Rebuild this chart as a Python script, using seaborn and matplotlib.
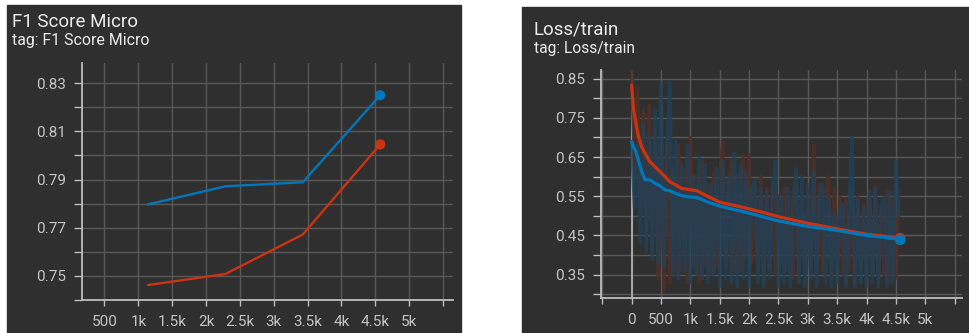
import matplotlib
matplotlib.use("Agg")
import matplotlib.pyplot as plt
from matplotlib.patches import Rectangle
import numpy as np
import pandas as pd
import seaborn as sns

# ---------------- data ----------------
# F1 (micro) evaluated at the end of each epoch
f1_steps = [1143, 2286, 3429, 4572]
f1_blue = [0.7797, 0.7872, 0.7889, 0.8250]
f1_red = [0.7462, 0.7508, 0.7672, 0.8046]

# raw training loss, one value every 50 steps (0 .. 4550)
loss_blue_raw = [
    0.69, 0.52, 0.68, 0.43, 0.73, 0.41, 0.70, 0.39, 0.77, 0.38,
    0.84, 0.37, 0.66, 0.84, 0.35, 0.69, 0.34, 0.63, 0.36, 0.68,
    0.33, 0.60, 0.35, 0.65, 0.34, 0.63, 0.33, 0.58, 0.35, 0.62,
    0.32, 0.64, 0.34, 0.60, 0.33, 0.66, 0.32, 0.63, 0.34, 0.61,
    0.32, 0.57, 0.59, 0.33, 0.57, 0.32, 0.56, 0.34, 0.55, 0.64,
    0.32, 0.55, 0.33, 0.57, 0.32, 0.54, 0.62, 0.33, 0.60, 0.32,
    0.58, 0.34, 0.61, 0.32, 0.55, 0.58, 0.33, 0.55, 0.32, 0.51,
    0.33, 0.52, 0.53, 0.32, 0.50, 0.70, 0.32, 0.54, 0.33, 0.52,
    0.32, 0.56, 0.33, 0.57, 0.32, 0.53, 0.55, 0.32, 0.56, 0.33,
    0.64, 0.50,
]
loss_red_raw = [
    0.88, 0.62, 0.83, 0.50, 0.77, 0.44, 0.78, 0.41, 0.72, 0.34,
    0.66, 0.31, 0.70, 0.33, 0.62, 0.35, 0.68, 0.36, 0.62, 0.33,
    0.70, 0.37, 0.60, 0.33, 0.64, 0.38, 0.58, 0.35, 0.61, 0.37,
    0.57, 0.69, 0.37, 0.58, 0.64, 0.36, 0.60, 0.36, 0.655, 0.40,
    0.655, 0.38, 0.58, 0.36, 0.60, 0.34, 0.57, 0.37, 0.59, 0.35,
    0.55, 0.38, 0.57, 0.36, 0.56, 0.34, 0.58, 0.36, 0.55, 0.35,
    0.57, 0.37, 0.68, 0.35, 0.58, 0.36, 0.56, 0.60, 0.34, 0.57,
    0.37, 0.55, 0.35, 0.54, 0.36, 0.56, 0.33, 0.55, 0.36, 0.53,
    0.34, 0.55, 0.35, 0.575, 0.33, 0.52, 0.35, 0.565, 0.33, 0.54,
    0.34, 0.56,
]
loss_steps = [50 * i for i in range(len(loss_blue_raw))]

# smoothed training loss
smooth_steps = [0, 30, 60, 110, 170, 230, 310, 400, 480, 570, 650, 740,
                850, 940, 1110, 1280, 1500, 2000, 2500, 3000, 3500, 4000,
                4500, 4572]
loss_blue_smooth = [0.689, 0.676, 0.668, 0.645, 0.613, 0.592, 0.592, 0.583,
                    0.577, 0.566, 0.564, 0.558, 0.552, 0.549, 0.547, 0.536,
                    0.525, 0.507, 0.487, 0.473, 0.463, 0.450, 0.442, 0.439]
loss_red_smooth = [0.833, 0.774, 0.748, 0.706, 0.676, 0.659, 0.638, 0.625,
                   0.613, 0.600, 0.587, 0.580, 0.570, 0.568, 0.564, 0.551,
                   0.535, 0.518, 0.498, 0.481, 0.467, 0.453, 0.445, 0.443]

# axis ticks
f1_xticks = [500, 1000, 1500, 2000, 2500, 3000, 3500, 4000, 4500, 5000, 5500]
f1_xticklabels = ["500", "1k", "1.5k", "2k", "2.5k", "3k", "3.5k", "4k",
                  "4.5k", "5k", ""]
f1_yticks = [0.74, 0.75, 0.76, 0.77, 0.78, 0.79, 0.80, 0.81, 0.82, 0.83]
f1_yticklabels = ["", "0.75", "", "0.77", "", "0.79", "", "0.81", "", "0.83"]

loss_xticks = [-500, 0, 500, 1000, 1500, 2000, 2500, 3000, 3500, 4000,
               4500, 5000, 5500]
loss_xticklabels = ["", "0", "500", "1k", "1.5k", "2k", "2.5k", "3k", "3.5k",
                    "4k", "4.5k", "5k", ""]
loss_yticks = [0.30, 0.35, 0.40, 0.45, 0.50, 0.55, 0.60, 0.65, 0.70, 0.75,
               0.80, 0.85]
loss_yticklabels = ["", "0.35", "", "0.45", "", "0.55", "", "0.65", "",
                    "0.75", "", "0.85"]

# ---------------- style ----------------
PANEL = "#2f2f2f"
GRID = "#585858"
SPINE = "#bdbdbd"
TICKTXT = "#c4c4c4"
TITLE = "#ececec"
BLUE = "#0077bb"
RED = "#cc3311"
BLUE_RAW = "#20425a"   # faded blue for the unsmoothed series
RED_RAW = "#4e2e28"    # faded red for the unsmoothed series

sns.set_theme(style="dark")
plt.rcParams["font.family"] = ["Roboto", "DejaVu Sans"]

W, H = 969, 333
fig = plt.figure(figsize=(W / 100, H / 100), dpi=100, facecolor="white")

# card backgrounds
fig.add_artist(Rectangle((7 / W, 0), (461 - 7) / W, (H - 5) / H,
                         transform=fig.transFigure, color=PANEL, zorder=0))
fig.add_artist(Rectangle((522 / W, 0), (W - 522) / W, (H - 7) / H,
                         transform=fig.transFigure, color=PANEL, zorder=0))

ax1 = fig.add_axes([82 / W, (H - 300) / H, (453 - 82) / W, (300 - 63) / H])
ax2 = fig.add_axes([601 / W, (H - 298) / H, (961.7 - 601) / W, (298 - 70) / H])


def style_axes(ax):
    ax.set_facecolor(PANEL)
    ax.grid(True, color=GRID, linewidth=1.0)
    ax.set_axisbelow(True)
    for side in ("top", "right"):
        ax.spines[side].set_visible(False)
    for side in ("left", "bottom"):
        ax.spines[side].set_visible(True)
        ax.spines[side].set_color(SPINE)
        ax.spines[side].set_linewidth(1.3)
    ax.tick_params(axis="both", colors=SPINE, labelcolor=TICKTXT,
                   labelsize=11, width=1.0)
    ax.tick_params(axis="y", length=5.5, pad=6, left=True)
    ax.tick_params(axis="x", length=4, pad=7, bottom=True)
    ax.set_xlabel("")
    ax.set_ylabel("")
    if ax.get_legend() is not None:
        ax.get_legend().remove()


# ---------------- F1 Score Micro ----------------
f1_df = pd.DataFrame({
    "step": f1_steps * 2,
    "value": f1_blue + f1_red,
    "run": ["blue"] * len(f1_steps) + ["red"] * len(f1_steps),
})
sns.lineplot(data=f1_df, x="step", y="value", hue="run",
             palette={"blue": BLUE, "red": RED}, linewidth=1.7,
             legend=False, ax=ax1)
sns.scatterplot(x=[f1_steps[-1], f1_steps[-1]], y=[f1_blue[-1], f1_red[-1]],
                hue=["blue", "red"], palette={"blue": BLUE, "red": RED},
                s=55, linewidth=0, legend=False, ax=ax1, zorder=5)
ax1.set_xlim(168, 5647)
ax1.set_ylim(0.74, 0.8384)
ax1.set_xticks(f1_xticks)
ax1.set_xticklabels(f1_xticklabels)
ax1.set_yticks(f1_yticks)
ax1.set_yticklabels(f1_yticklabels)
style_axes(ax1)

# ---------------- Loss/train ----------------
ax2.axvline(0, color="#a8a8a8", linewidth=1.4, zorder=1.5)
sns.lineplot(x=loss_steps, y=loss_red_raw, color=RED_RAW, alpha=0.9,
             linewidth=2.6, ax=ax2)
sns.lineplot(x=loss_steps, y=loss_blue_raw, color=BLUE_RAW, alpha=0.78,
             linewidth=2.6, ax=ax2)
sns.lineplot(x=smooth_steps, y=loss_red_smooth, color=RED, linewidth=2.3,
             ax=ax2)
sns.lineplot(x=smooth_steps, y=loss_blue_smooth, color=BLUE, linewidth=2.3,
             ax=ax2)
sns.scatterplot(x=[smooth_steps[-1], smooth_steps[-1]],
                y=[loss_red_smooth[-1], loss_blue_smooth[-1]],
                hue=["red", "blue"], palette={"blue": BLUE, "red": RED},
                s=60, linewidth=0, legend=False, ax=ax2, zorder=5)
ax2.set_xlim(-522, 5620)
ax2.set_ylim(0.2906, 0.872)
ax2.set_xticks(loss_xticks)
ax2.set_xticklabels(loss_xticklabels)
ax2.set_yticks(loss_yticks)
ax2.set_yticklabels(loss_yticklabels)
style_axes(ax2)

# ---------------- card titles ----------------
fig.text(12 / W, (H - 26.7) / H, "F1 Score Micro", color=TITLE,
         fontsize=13.5, va="baseline", ha="left")
fig.text(12 / W, (H - 45) / H, "tag: F1 Score Micro", color=TITLE,
         fontsize=11.4, va="baseline", ha="left")
fig.text(533.5 / W, (H - 34.3) / H, "Loss/train", color=TITLE,
         fontsize=13.5, va="baseline", ha="left")
fig.text(533.5 / W, (H - 52.7) / H, "tag: Loss/train", color=TITLE,
         fontsize=11.2, va="baseline", ha="left")

fig.savefig("out.png", dpi=100, facecolor="white")
